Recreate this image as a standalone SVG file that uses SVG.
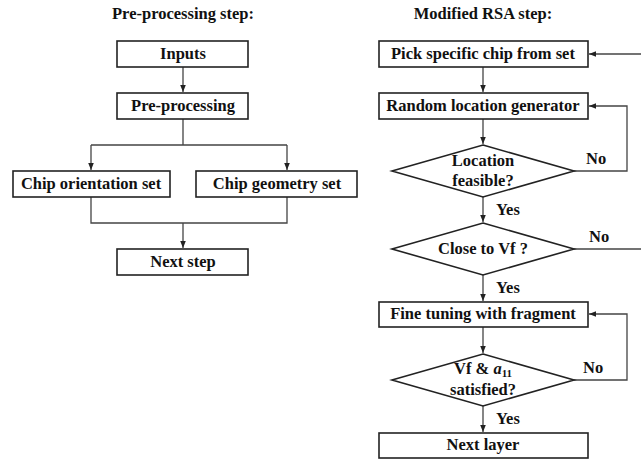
<svg xmlns="http://www.w3.org/2000/svg" width="641" height="461" viewBox="0 0 641 461">
<style>
.t{font-family:'Liberation Serif','Times New Roman',Tinos,'DejaVu Serif',serif;font-weight:700;font-size:16.5px;fill:#111;text-anchor:middle}
.box{fill:#fff;stroke:#222;stroke-width:1.6}
.c{fill:none;stroke:#444;stroke-width:1.3}
.lbl{text-anchor:start}
</style>
<defs>
<marker id="ah" viewBox="0 0 10 10" refX="10" refY="5" markerWidth="7" markerHeight="7" markerUnits="userSpaceOnUse" orient="auto"><path d="M0,1 L10,5 L0,9 z" fill="#222"/></marker>
</defs>
<g class="t">
<text x="183" y="19">Pre-processing step:</text>
<text x="483" y="19">Modified RSA step:</text>
</g>
<g id="connectors">
<path class="c" d="M183,67 V92" marker-end="url(#ah)"/>
<path class="c" d="M183,119 V145 M91,145 H287"/>
<path class="c" d="M91,145 V170" marker-end="url(#ah)"/>
<path class="c" d="M287,145 V170" marker-end="url(#ah)"/>
<path class="c" d="M91,197 V223 H287 V197"/>
<path class="c" d="M183,223 V248" marker-end="url(#ah)"/>
<path class="c" d="M641,54 H589" marker-end="url(#ah)"/>
<path class="c" d="M483,67 V92" marker-end="url(#ah)"/>
<path class="c" d="M483,119 V144" marker-end="url(#ah)"/>
<path class="c" d="M574,171 H627 V106 H589" marker-end="url(#ah)"/>
<path class="c" d="M483,197 V222" marker-end="url(#ah)"/>
<path class="c" d="M574,249 H641"/>
<path class="c" d="M483,275 V301" marker-end="url(#ah)"/>
<path class="c" d="M483,327 V353" marker-end="url(#ah)"/>
<path class="c" d="M574,380 H627 V314 H589" marker-end="url(#ah)"/>
<path class="c" d="M483,406 V432" marker-end="url(#ah)"/>
<g class="t">
<text class="lbl" x="586" y="164">No</text>
<text class="lbl" x="496" y="215">Yes</text>
<text class="lbl" x="589" y="242">No</text>
<text class="lbl" x="496" y="293">Yes</text>
<text class="lbl" x="583" y="373">No</text>
<text class="lbl" x="496" y="424">Yes</text>
</g>
</g>
<g id="inputs" class="t"><rect class="box" x="117" y="41" width="131" height="26"/><text x="183" y="59">Inputs</text></g>
<g id="preprocessing" class="t"><rect class="box" x="117" y="93" width="131" height="26"/><text x="183" y="111">Pre-processing</text></g>
<g id="orientation" class="t"><rect class="box" x="13" y="171" width="157" height="26"/><text x="91" y="189">Chip orientation set</text></g>
<g id="geometry" class="t"><rect class="box" x="196" y="171" width="161" height="26"/><text x="277" y="189">Chip geometry set</text></g>
<g id="nextstep" class="t"><rect class="box" x="117" y="249" width="131" height="26"/><text x="183" y="267">Next step</text></g>
<g id="pick" class="t"><rect class="box" x="379" y="41" width="209" height="26"/><text x="483" y="59">Pick specific chip from set</text></g>
<g id="random" class="t"><rect class="box" x="379" y="93" width="209" height="26"/><text x="483" y="111">Random location generator</text></g>
<g id="feasible" class="t"><polygon class="box" points="483,145 574,171 483,197 392,171"/><text x="483" y="166">Location</text><text x="483" y="186">feasible?</text></g>
<g id="closevf" class="t"><polygon class="box" points="483,223 574,249 483,275 392,249"/><text x="483" y="254">Close to Vf ?</text></g>
<g id="finetune" class="t"><rect class="box" x="379" y="302" width="209" height="25"/><text x="483" y="319">Fine tuning with fragment</text></g>
<g id="satisfied" class="t"><polygon class="box" points="483,354 574,380 483,406 392,380"/><text x="483" y="374">Vf &amp; <tspan font-style="italic">a</tspan><tspan font-size="11" dy="3">11</tspan></text><text x="483" y="395">satisfied?</text></g>
<g id="nextlayer" class="t"><rect class="box" x="379" y="433" width="209" height="25"/><text x="483" y="450">Next layer</text></g>
</svg>
